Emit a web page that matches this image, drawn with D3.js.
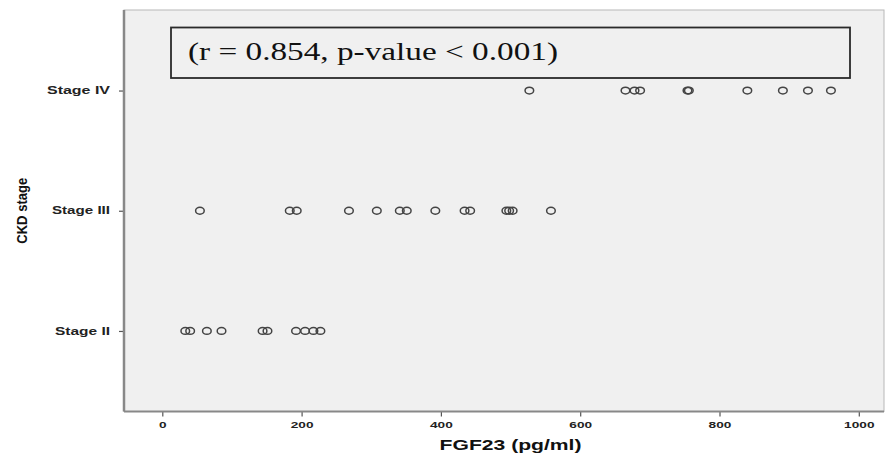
<!DOCTYPE html>
<html>
<head>
<meta charset="utf-8">
<script src="https://cdn.jsdelivr.net/npm/d3@7"></script>
<style>
  html, body { margin: 0; padding: 0; background: #fff; }
  svg { display: block; }
</style>
</head>
<body>
<svg id="chart" width="888" height="457"></svg>
<script>
const stages = ["Stage II", "Stage III", "Stage IV"];
const stageII = [33, 40, 64, 85, 144, 151, 192, 205, 217, 227];
const stageIII = [54, 183, 193, 268, 308, 341, 351, 392, 434, 442, 494, 498, 503, 558];
const stageIV = [527, 665, 678, 686, 754, 756, 840, 891, 927, 960];
const xTicks = [0, 200, 400, 600, 800, 1000];
const annotation = "(r = 0.854, p-value < 0.001)";

const svg = d3.select("#chart");
const width = 888;
const height = 457;

const PLOT = { left: 124, right: 884, top: 10, bottom: 411.5 };

const points = [
  ...stageII.map((v) => ({ stage: "Stage II", value: v })),
  ...stageIII.map((v) => ({ stage: "Stage III", value: v })),
  ...stageIV.map((v) => ({ stage: "Stage IV", value: v }))
];

const x = d3.scaleLinear().domain([0, 1000]).range([162.3, 858.8]);
const y = d3.scalePoint().domain(stages).range([PLOT.bottom, PLOT.top]).padding(0.67);

// plot background
svg.append("rect")
  .attr("x", PLOT.left)
  .attr("y", PLOT.top)
  .attr("width", PLOT.right - PLOT.left)
  .attr("height", PLOT.bottom - PLOT.top)
  .attr("fill", "#f0f0f0")
  .attr("stroke", "#b8b8b8")
  .attr("stroke-width", 1);

// annotation box
svg.append("rect")
  .attr("x", 171)
  .attr("y", 27.5)
  .attr("width", 679)
  .attr("height", 50.5)
  .attr("fill", "#f0f0f0")
  .attr("stroke", "#2a2a2a")
  .attr("stroke-width", 1.8);

svg.append("text")
  .attr("x", 188)
  .attr("y", 60)
  .attr("font-family", "'Liberation Serif', 'Times New Roman', serif")
  .attr("font-size", 25)
  .attr("fill", "#111")
  .attr("textLength", 370)
  .attr("lengthAdjust", "spacingAndGlyphs")
  .text(annotation);

// x axis
const xAxis = svg.append("g")
  .attr("transform", `translate(0,${PLOT.bottom})`)
  .call(d3.axisBottom(x).tickValues(xTicks).tickSize(5).tickSizeOuter(0).tickFormat(d3.format("d")));
xAxis.select(".domain").remove();
xAxis.selectAll(".tick line").attr("stroke", "#555").attr("stroke-width", 1.2);
xAxis.selectAll(".tick text")
  .attr("y", 10)
  .attr("dy", "0.71em")
  .attr("fill", "#222")
  .attr("font-family", "Arial, 'Liberation Sans', sans-serif")
  .attr("font-weight", "bold")
  .attr("font-size", 9.5)
  .attr("textLength", (d) => String(d).length * 7.6)
  .attr("lengthAdjust", "spacingAndGlyphs");

svg.append("line")
  .attr("x1", PLOT.left).attr("x2", PLOT.right)
  .attr("y1", PLOT.bottom).attr("y2", PLOT.bottom)
  .attr("stroke", "#888").attr("stroke-width", 2);

// y axis
const yAxis = svg.append("g")
  .attr("transform", `translate(${PLOT.left},0)`)
  .call(d3.axisLeft(y).tickSize(5).tickSizeOuter(0));
yAxis.select(".domain").remove();
yAxis.selectAll(".tick line").attr("stroke", "#555").attr("stroke-width", 1.2);
yAxis.selectAll(".tick text")
  .attr("x", -14)
  .attr("fill", "#222")
  .attr("font-family", "Arial, 'Liberation Sans', sans-serif")
  .attr("font-weight", "bold")
  .attr("font-size", 10)
  .attr("textLength", (d) => ({ "Stage II": 55, "Stage III": 58, "Stage IV": 63 })[d])
  .attr("lengthAdjust", "spacingAndGlyphs");

svg.append("line")
  .attr("x1", PLOT.left).attr("x2", PLOT.left)
  .attr("y1", PLOT.top).attr("y2", PLOT.bottom)
  .attr("stroke", "#888").attr("stroke-width", 2.5);

// axis titles
svg.append("text")
  .attr("x", (x(0) + x(1000)) / 2)
  .attr("y", 450)
  .attr("text-anchor", "middle")
  .attr("font-family", "Arial, 'Liberation Sans', sans-serif")
  .attr("font-weight", "bold")
  .attr("font-size", 14)
  .attr("fill", "#111")
  .attr("textLength", 142)
  .attr("lengthAdjust", "spacingAndGlyphs")
  .text("FGF23 (pg/ml)");

svg.append("text")
  .attr("transform", `translate(27,${y("Stage III")}) rotate(-90)`)
  .attr("text-anchor", "middle")
  .attr("font-family", "Arial, 'Liberation Sans', sans-serif")
  .attr("font-weight", "bold")
  .attr("font-size", 15)
  .attr("fill", "#111")
  .attr("textLength", 66)
  .attr("lengthAdjust", "spacingAndGlyphs")
  .text("CKD stage");

// points
svg.append("g")
  .selectAll("ellipse")
  .data(points)
  .join("ellipse")
  .attr("cx", (d) => x(d.value))
  .attr("cy", (d) => y(d.stage))
  .attr("rx", 4.3)
  .attr("ry", 3.4)
  .attr("fill", "none")
  .attr("stroke", "#444")
  .attr("stroke-width", 1.5);
</script>
</body>
</html>
